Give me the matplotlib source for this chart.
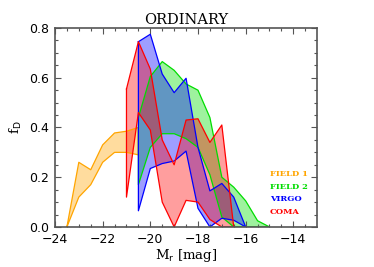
import numpy as np
import matplotlib
matplotlib.use('Agg')
import matplotlib.pyplot as plt

# FIELD 1
x_f1 = [-23.5, -23.0, -22.5, -22.0, -21.5, -21.0, -20.5]
hi_f1 = [0.0, 0.26, 0.23, 0.33, 0.378, 0.385, 0.40]
lo_f1 = [0.0, 0.12, 0.17, 0.26, 0.30, 0.30, 0.29]

# FIELD 2
x_f2 = [-20.5, -20.0, -19.5, -19.0, -18.5, -18.0, -17.5, -17.0, -16.5, -16.0, -15.5, -15.0]
hi_f2 = [0.44, 0.605, 0.665, 0.63, 0.575, 0.55, 0.44, 0.20, 0.16, 0.105, 0.025, 0.0]
lo_f2 = [0.17, 0.32, 0.375, 0.375, 0.355, 0.32, 0.21, 0.04, 0.0, 0.0, 0.0, 0.0]

# VIRGO
x_vi = [-20.5, -20.0, -19.5, -19.0, -18.5, -18.0, -17.5, -17.0, -16.5, -16.0]
hi_vi = [0.745, 0.775, 0.615, 0.54, 0.598, 0.32, 0.145, 0.175, 0.12, 0.0]
lo_vi = [0.065, 0.235, 0.255, 0.265, 0.305, 0.075, 0.0, 0.035, 0.027, 0.0]

# COMA
x_co = [-21.0, -20.5, -20.0, -19.5, -19.0, -18.5, -18.0, -17.5, -17.0, -16.5]
hi_co = [0.555, 0.745, 0.635, 0.35, 0.25, 0.43, 0.435, 0.34, 0.41, 0.0]
lo_co = [0.12, 0.46, 0.39, 0.10, 0.0, 0.107, 0.10, 0.03, 0.0, 0.0]

bandas = [
    ('FIELD 1', x_f1, hi_f1, lo_f1, '#ffa500'),
    ('FIELD 2', x_f2, hi_f2, lo_f2, '#00dd00'),
    ('VIRGO', x_vi, hi_vi, lo_vi, '#0000ff'),
    ('COMA', x_co, hi_co, lo_co, '#ff0000'),
]

fig = plt.figure(figsize=(3.74, 2.67), dpi=100)
ax = fig.add_axes([0.147, 0.150, 0.701, 0.745])

for nombre, x, hi, lo, c in bandas:
    ax.fill_between(x, lo, hi, facecolor=c, alpha=0.38, linewidth=0)
    xs = list(x) + list(x[::-1]) + [x[0]]
    ys = list(hi) + list(lo[::-1]) + [hi[0]]
    ax.plot(xs, ys, color=c, lw=0.9)

ax.set_xlim(-24, -13)
ax.set_ylim(0, 0.8)
ax.set_xticks([-24, -22, -20, -18, -16, -14])
ax.set_xticklabels(['\u221224', '\u221222', '\u221220', '\u221218', '\u221216', '\u221214'])
ax.set_xticks(np.arange(-24, -13, 0.5), minor=True)
ax.set_yticks([0.0, 0.2, 0.4, 0.6, 0.8])
ax.set_yticklabels(['0.0', '0.2', '0.4', '0.6', '0.8'])
ax.set_yticks(np.arange(0, 0.81, 0.05), minor=True)
ax.tick_params(which='both', direction='in', top=True, right=True, colors='#555555',
               labelcolor='black', labelsize=9, width=0.8, pad=4)
ax.tick_params(which='major', length=4)
ax.tick_params(which='minor', length=2)
for s in ax.spines.values():
    s.set_color('#555555')
    s.set_linewidth(1.2)

ax.set_title('ORDINARY', family='DejaVu Serif', fontsize=10.5, pad=3)
ax.set_xlabel(r'M$_{\rm r}$ [mag]', family='DejaVu Serif', fontsize=9.5, labelpad=1)
ax.set_ylabel(r'f$_{\rm D}$', family='DejaVu Serif', fontsize=9.5, labelpad=4)

ytxt = [0.268, 0.202, 0.141, 0.076]
for (nombre, x, hi, lo, c), yy in zip(bandas, ytxt):
    ax.text(0.82, yy, nombre, color=c, fontsize=6, fontweight='bold',
            family='DejaVu Serif', transform=ax.transAxes, va='center')

plt.savefig('out.png', dpi=100)
